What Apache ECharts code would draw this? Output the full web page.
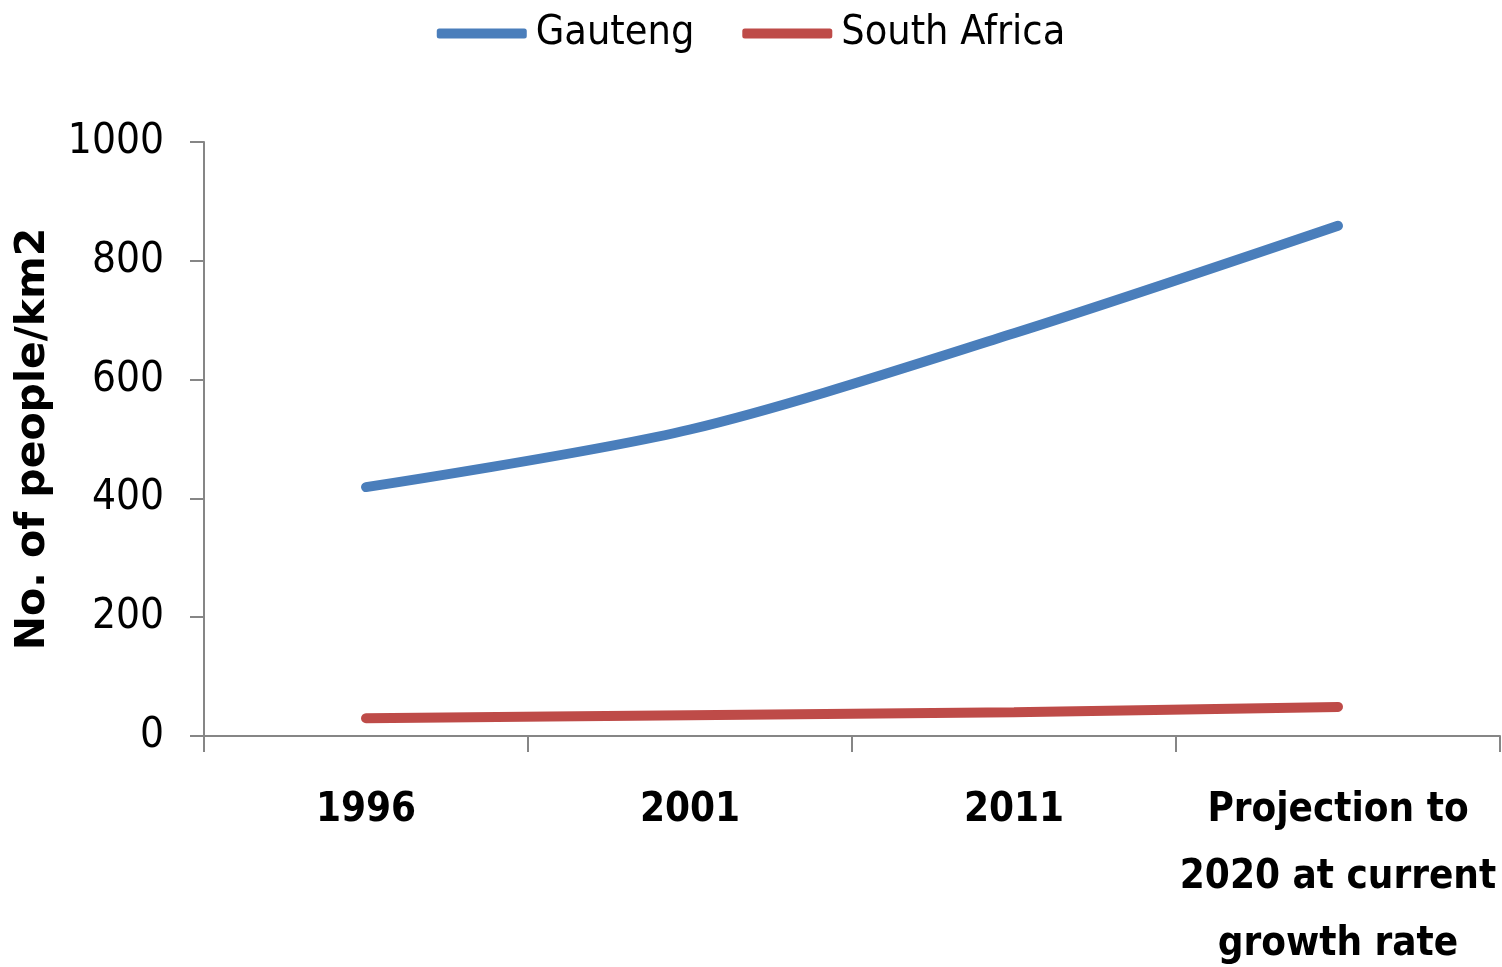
<!DOCTYPE html>
<html>
<head>
<meta charset="utf-8">
<title>Population density</title>
<script src="https://cdn.jsdelivr.net/npm/echarts@6/dist/echarts.min.js"></script>
<style>
  html, body { margin: 0; padding: 0; background: #fff; }
  #chart { width: 1502px; height: 967px; }
</style>
</head>
<body>
<div id="chart"></div>
<script>
const categories = ['1996', '2001', '2011', 'Projection to\n2020 at current\ngrowth rate']
const gauteng = [419, 516, 678, 859]
const southAfrica = [30, 35, 40, 49]
const yTicks = { min: 0, max: 1000, interval: 200 }

const narrow = '"Liberation Sans Narrow", "DejaVu Sans Condensed", "Liberation Sans", sans-serif'
const axisGrey = '#868686'

const myChart = echarts.init(document.getElementById('chart'))

let option = {
	animation: false,
	legend: {
		top: 8,
		left: 'center',
		itemWidth: 90,
		itemHeight: 10,
		itemGap: 48,
		icon: 'roundRect',
		textStyle: { fontFamily: narrow, fontSize: 41, color: '#000', padding: [0, 0, 0, 4] },
		data: ['Gauteng', 'South Africa'],
	},
	grid: {
		left: 204,
		right: 2,
		top: 142,
		bottom: 231,
		outerBoundsMode: 'none',
		containLabel: false,
	},
	xAxis: {
		type: 'category',
		data: categories,
		boundaryGap: true,
		axisLine: { lineStyle: { color: axisGrey, width: 2 } },
		axisTick: { show: true, interval: 0, length: 16, lineStyle: { color: axisGrey, width: 2 } },
		axisLabel: {
			interval: 0,
			margin: 41,
			fontFamily: narrow,
			fontWeight: 'bold',
			fontSize: 40,
			lineHeight: 67,
			color: '#000',
		},
	},
	yAxis: {
		type: 'value',
		min: yTicks.min,
		max: yTicks.max,
		interval: yTicks.interval,
		name: 'No. of people/km2',
		nameLocation: 'middle',
		nameGap: 150,
		nameTextStyle: { fontFamily: '"DejaVu Sans", sans-serif', fontWeight: 'bold', fontSize: 41, color: '#000' },
		axisLine: { show: true, lineStyle: { color: axisGrey, width: 2 } },
		axisTick: { show: true, length: 14, lineStyle: { color: axisGrey, width: 2 } },
		splitLine: { show: false },
		axisLabel: {
			margin: 40,
			fontFamily: narrow,
			fontSize: 42,
			color: '#000',
			formatter: v => String(v),
		},
	},
	series: [
		{
			name: 'Gauteng',
			type: 'line',
			smooth: 0.3,
			symbol: 'none',
			color: '#4a7ebb',
			lineStyle: { width: 10, cap: 'round', color: '#4a7ebb' },
			data: gauteng,
		},
		{
			name: 'South Africa',
			type: 'line',
			smooth: 0.3,
			symbol: 'none',
			color: '#be4b48',
			lineStyle: { width: 10, cap: 'round', color: '#be4b48' },
			data: southAfrica,
		},
	],
}

myChart.setOption(option)
</script>
</body>
</html>
